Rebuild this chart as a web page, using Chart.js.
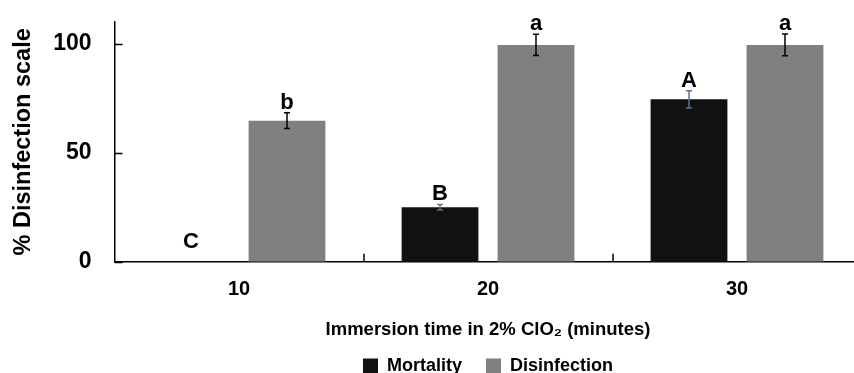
<!DOCTYPE html>
<html>
<head>
<meta charset="utf-8">
<script src="https://cdn.jsdelivr.net/npm/chart.js@4.4.0/dist/chart.umd.min.js"></script>
<style>
  html, body { margin: 0; padding: 0; background: #fff; overflow: hidden; }
  #wrap { width: 854px; height: 373px; overflow: hidden; position: relative; }
  #chart { position: absolute; left: 0; top: 0; }
</style>
</head>
<body>
<div id="wrap">
  <canvas id="chart" width="976" height="385"></canvas>
</div>
<script>
  // data
  const categories = ["10", "20", "30"];
  const mortality = [0, 25, 74.5];
  const mortalityErr = [0, 1.3, 4];
  const disinfection = [64.7, 99.5, 99.5];
  const disinfectionErr = [3.6, 4.9, 5];
  const mortalityLetters = ["C", "B", "A"];
  const disinfectionLetters = ["b", "a", "a"];
  const yTicks = [0, 50, 100];

  const SANS = "'Liberation Sans', Arial, sans-serif";

  const errors = [mortalityErr, disinfectionErr];
  const letters = [mortalityLetters, disinfectionLetters];
  const errColors = ["#5b7393", "#000000"];

  // error bars + significance letters
  const annotate = {
    id: "annotate",
    afterDatasetsDraw(chart) {
      const ctx = chart.ctx;
      const y = chart.scales.y;
      const bottom = chart.chartArea.bottom;
      ctx.save();
      chart.data.datasets.forEach((ds, i) => {
        const meta = chart.getDatasetMeta(i);
        meta.data.forEach((bar, j) => {
          const v = ds.data[j];
          const e = errors[i][j];
          const top = y.getPixelForValue(v + e);
          if (e > 0) {
            const low = y.getPixelForValue(v - e);
            ctx.strokeStyle = errColors[i];
            ctx.lineWidth = 1.5;
            ctx.beginPath();
            ctx.moveTo(bar.x, top);
            ctx.lineTo(bar.x, low);
            ctx.moveTo(bar.x - 3, top);
            ctx.lineTo(bar.x + 3, top);
            ctx.moveTo(bar.x - 3, low);
            ctx.lineTo(bar.x + 3, low);
            ctx.stroke();
          }
          ctx.fillStyle = "#000";
          ctx.font = "bold 22px " + SANS;
          ctx.textAlign = "center";
          ctx.textBaseline = "alphabetic";
          const base = Math.min(top - 4, bottom - 14);
          ctx.fillText(letters[i][j], bar.x, base);
        });
      });
      ctx.restore();
    },
    afterDraw(chart) {
      // small inside tick marks like the original
      const ctx = chart.ctx;
      const { left, bottom } = chart.chartArea;
      const x = chart.scales.x;
      const y = chart.scales.y;
      ctx.save();
      ctx.strokeStyle = "#000";
      ctx.lineWidth = 1.5;
      ctx.beginPath();
      yTicks.forEach((t) => {
        const py = Math.round(y.getPixelForValue(t)) + 0.5;
        ctx.moveTo(left, py);
        ctx.lineTo(left + 8, py);
      });
      for (let i = 0; i < categories.length - 1; i++) {
        const px = Math.round((x.getPixelForValue(i) + x.getPixelForValue(i + 1)) / 2);
        ctx.moveTo(px, bottom);
        ctx.lineTo(px, bottom - 8);
      }
      ctx.stroke();
      ctx.restore();
    },
  };

  new Chart(document.getElementById("chart"), {
    type: "bar",
    data: {
      labels: categories,
      datasets: [
        {
          label: "Mortality",
          data: mortality,
          backgroundColor: "#111111",
          borderWidth: 0,
        },
        {
          label: "Disinfection",
          data: disinfection,
          backgroundColor: "#808080",
          borderWidth: 0,
        },
      ],
    },
    options: {
      responsive: false,
      animation: false,
      devicePixelRatio: 1,
      categoryPercentage: 0.771,
      barPercentage: 0.8,
      layout: { padding: { top: 22, left: 0, right: 0, bottom: 0 } },
      plugins: {
        tooltip: { enabled: false },
        legend: {
          position: "bottom",
          labels: {
            color: "#000",
            boxWidth: 15,
            boxHeight: 15,
            padding: 24,
            font: { family: SANS, size: 18, weight: "bold" },
          },
        },
      },
      scales: {
        x: {
          grid: { display: false, drawTicks: false },
          border: { display: true, color: "#000", width: 1.5 },
          ticks: {
            color: "#000",
            padding: 16,
            font: { family: SANS, size: 20, weight: "bold" },
          },
          title: {
            display: true,
            text: "Immersion time in 2% ClO\u2082 (minutes)",
            color: "#000",
            font: { family: SANS, size: 18.5, weight: "bold" },
            padding: { top: 0, bottom: -8 },
          },
          afterFit(s) {
            s.height = 71.3;
          },
        },
        y: {
          min: 0,
          max: 110,
          grid: { display: false, drawTicks: true, tickLength: 18 },
          border: { display: true, color: "#000", width: 1.5 },
          afterBuildTicks(s) {
            s.ticks = yTicks.map((v) => ({ value: v }));
          },
          ticks: {
            color: "#000",
            padding: 5,
            font: { family: SANS, size: 23, weight: "bold" },
          },
          title: {
            display: true,
            text: "% Disinfection scale",
            color: "#000",
            font: { family: SANS, size: 23.5, weight: "bold" },
            padding: { top: 9, bottom: 0 },
          },
          afterFit(s) {
            s.width = 114.5;
          },
        },
        // spacer on the right so legend and axis title centre on the plot
        yR: {
          position: "right",
          display: true,
          grid: { display: false, drawTicks: false },
          border: { display: false },
          ticks: { display: false },
          afterFit(s) {
            s.width = 114.5;
          },
        },
      },
    },
    plugins: [annotate],
  });
</script>
</body>
</html>
